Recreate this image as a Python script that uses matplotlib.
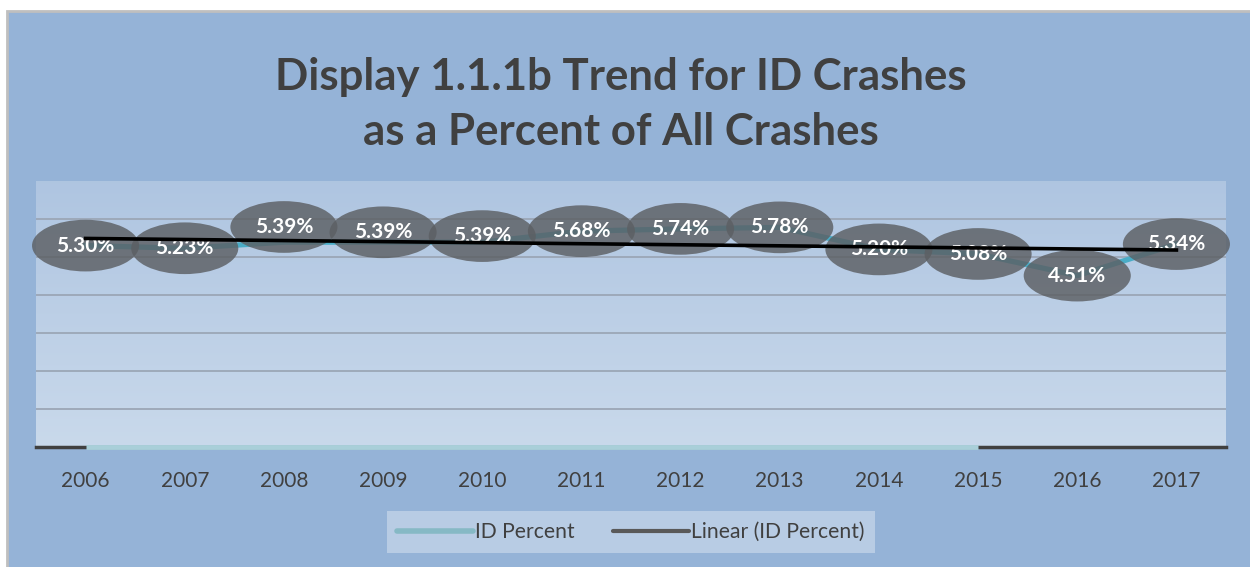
import numpy as np
import matplotlib
matplotlib.use("Agg")
import matplotlib.pyplot as plt
from matplotlib.patches import Ellipse, Rectangle
from matplotlib.lines import Line2D

years = ['2006', '2007', '2008', '2009', '2010', '2011',
         '2012', '2013', '2014', '2015', '2016', '2017']
id_percent = [5.30, 5.23, 5.39, 5.39, 5.39, 5.68, 5.74, 5.78, 5.20, 5.08, 4.51, 5.34]
label_nudge = [0.0, 0.0, 0.4, 0.26, 0.16, 0.0, 0.0, 0.0, 0.0, 0.0, 0.0, 0.0]

plt.rcParams['font.family'] = ['Lato', 'DejaVu Sans']

fig = plt.figure(figsize=(12.5, 5.67), dpi=100)
fig.patch.set_facecolor('white')
# chart panel with grey border
fig.patches.append(Rectangle((7 / 1250, -0.05), 1.1, 1 - 11 / 567 + 0.05,
                             transform=fig.transFigure, facecolor='#95b3d7',
                             edgecolor='#bfbfbf', linewidth=2, zorder=-5))

ax = fig.add_axes([36 / 1250, 1 - 447 / 567, 1190 / 1250, 266 / 567])
x = np.arange(len(years))
ax.set_xlim(-0.5, len(years) - 0.5)

# gradient plot area
grad = np.linspace(0, 1, 100).reshape(-1, 1)
top = np.array([0.686, 0.773, 0.882])
bot = np.array([0.788, 0.851, 0.922])
img = top + (bot - top) * grad[:, :, None]
ax.imshow(img, extent=(-0.5, len(years) - 0.5, 0, 7), origin='upper', aspect='auto', zorder=0)
ax.set_ylim(0, 7)

for g in range(1, 7):
    ax.axhline(g, color='#9ba6b6', lw=1.3, zorder=1)

for s in ax.spines.values():
    s.set_visible(False)
ax.axhline(0, color='#404040', lw=2.5, zorder=2, clip_on=False)
ax.plot(x[:10], np.zeros(10), color='#a9cfd9', lw=3.5, solid_capstyle='butt', zorder=3,
        clip_on=False)

ax.plot(x, id_percent, color='#4aacc6', lw=3.8, zorder=4)

for i, v in enumerate(id_percent):
    cy = v + label_nudge[i]
    ax.add_patch(Ellipse((x[i], cy), 1.08, 1.36, facecolor='#5c5f63', alpha=0.82,
                         edgecolor='none', zorder=5, clip_on=False))
    ax.text(x[i], cy, f'{v:.2f}%', color='white', fontsize=15, fontweight='bold',
            ha='center', va='center', zorder=6)

slope, inter = np.polyfit(x, id_percent, 1)
ax.plot(x, slope * x + inter, color='black', lw=2.6, zorder=7)

ax.set_yticks([])
ax.set_xticks(x)
ax.set_xticklabels(years, fontsize=15, color='#404040')
ax.tick_params(axis='x', length=0, pad=17)

fig.text(0.497, 1 - 77 / 567, 'Display 1.1.1b Trend for ID Crashes', ha='center', va='center',
         fontsize=31.5, fontweight='bold', color='#404040')
fig.text(0.497, 1 - 132 / 567, 'as a Percent of All Crashes', ha='center', va='center',
         fontsize=31.5, fontweight='bold', color='#404040')

handles = [Line2D([], [], color='#86b9c5', lw=4, solid_capstyle='round'),
           Line2D([], [], color='#595959', lw=3, solid_capstyle='round')]
leg = fig.legend(handles, ['ID Percent', 'Linear (ID Percent)'], loc='center',
                 bbox_to_anchor=(631 / 1250, 1 - 532 / 567), ncol=2, frameon=True,
                 fontsize=15.2, handlelength=3.6, handletextpad=0.1, columnspacing=1.8,
                 borderpad=0.5, fancybox=False)
leg.get_frame().set_facecolor('#b8cce4')
leg.get_frame().set_edgecolor('none')
leg.get_frame().set_alpha(1)
for t in leg.get_texts():
    t.set_color('#404040')

fig.savefig('out.png', dpi=100)
